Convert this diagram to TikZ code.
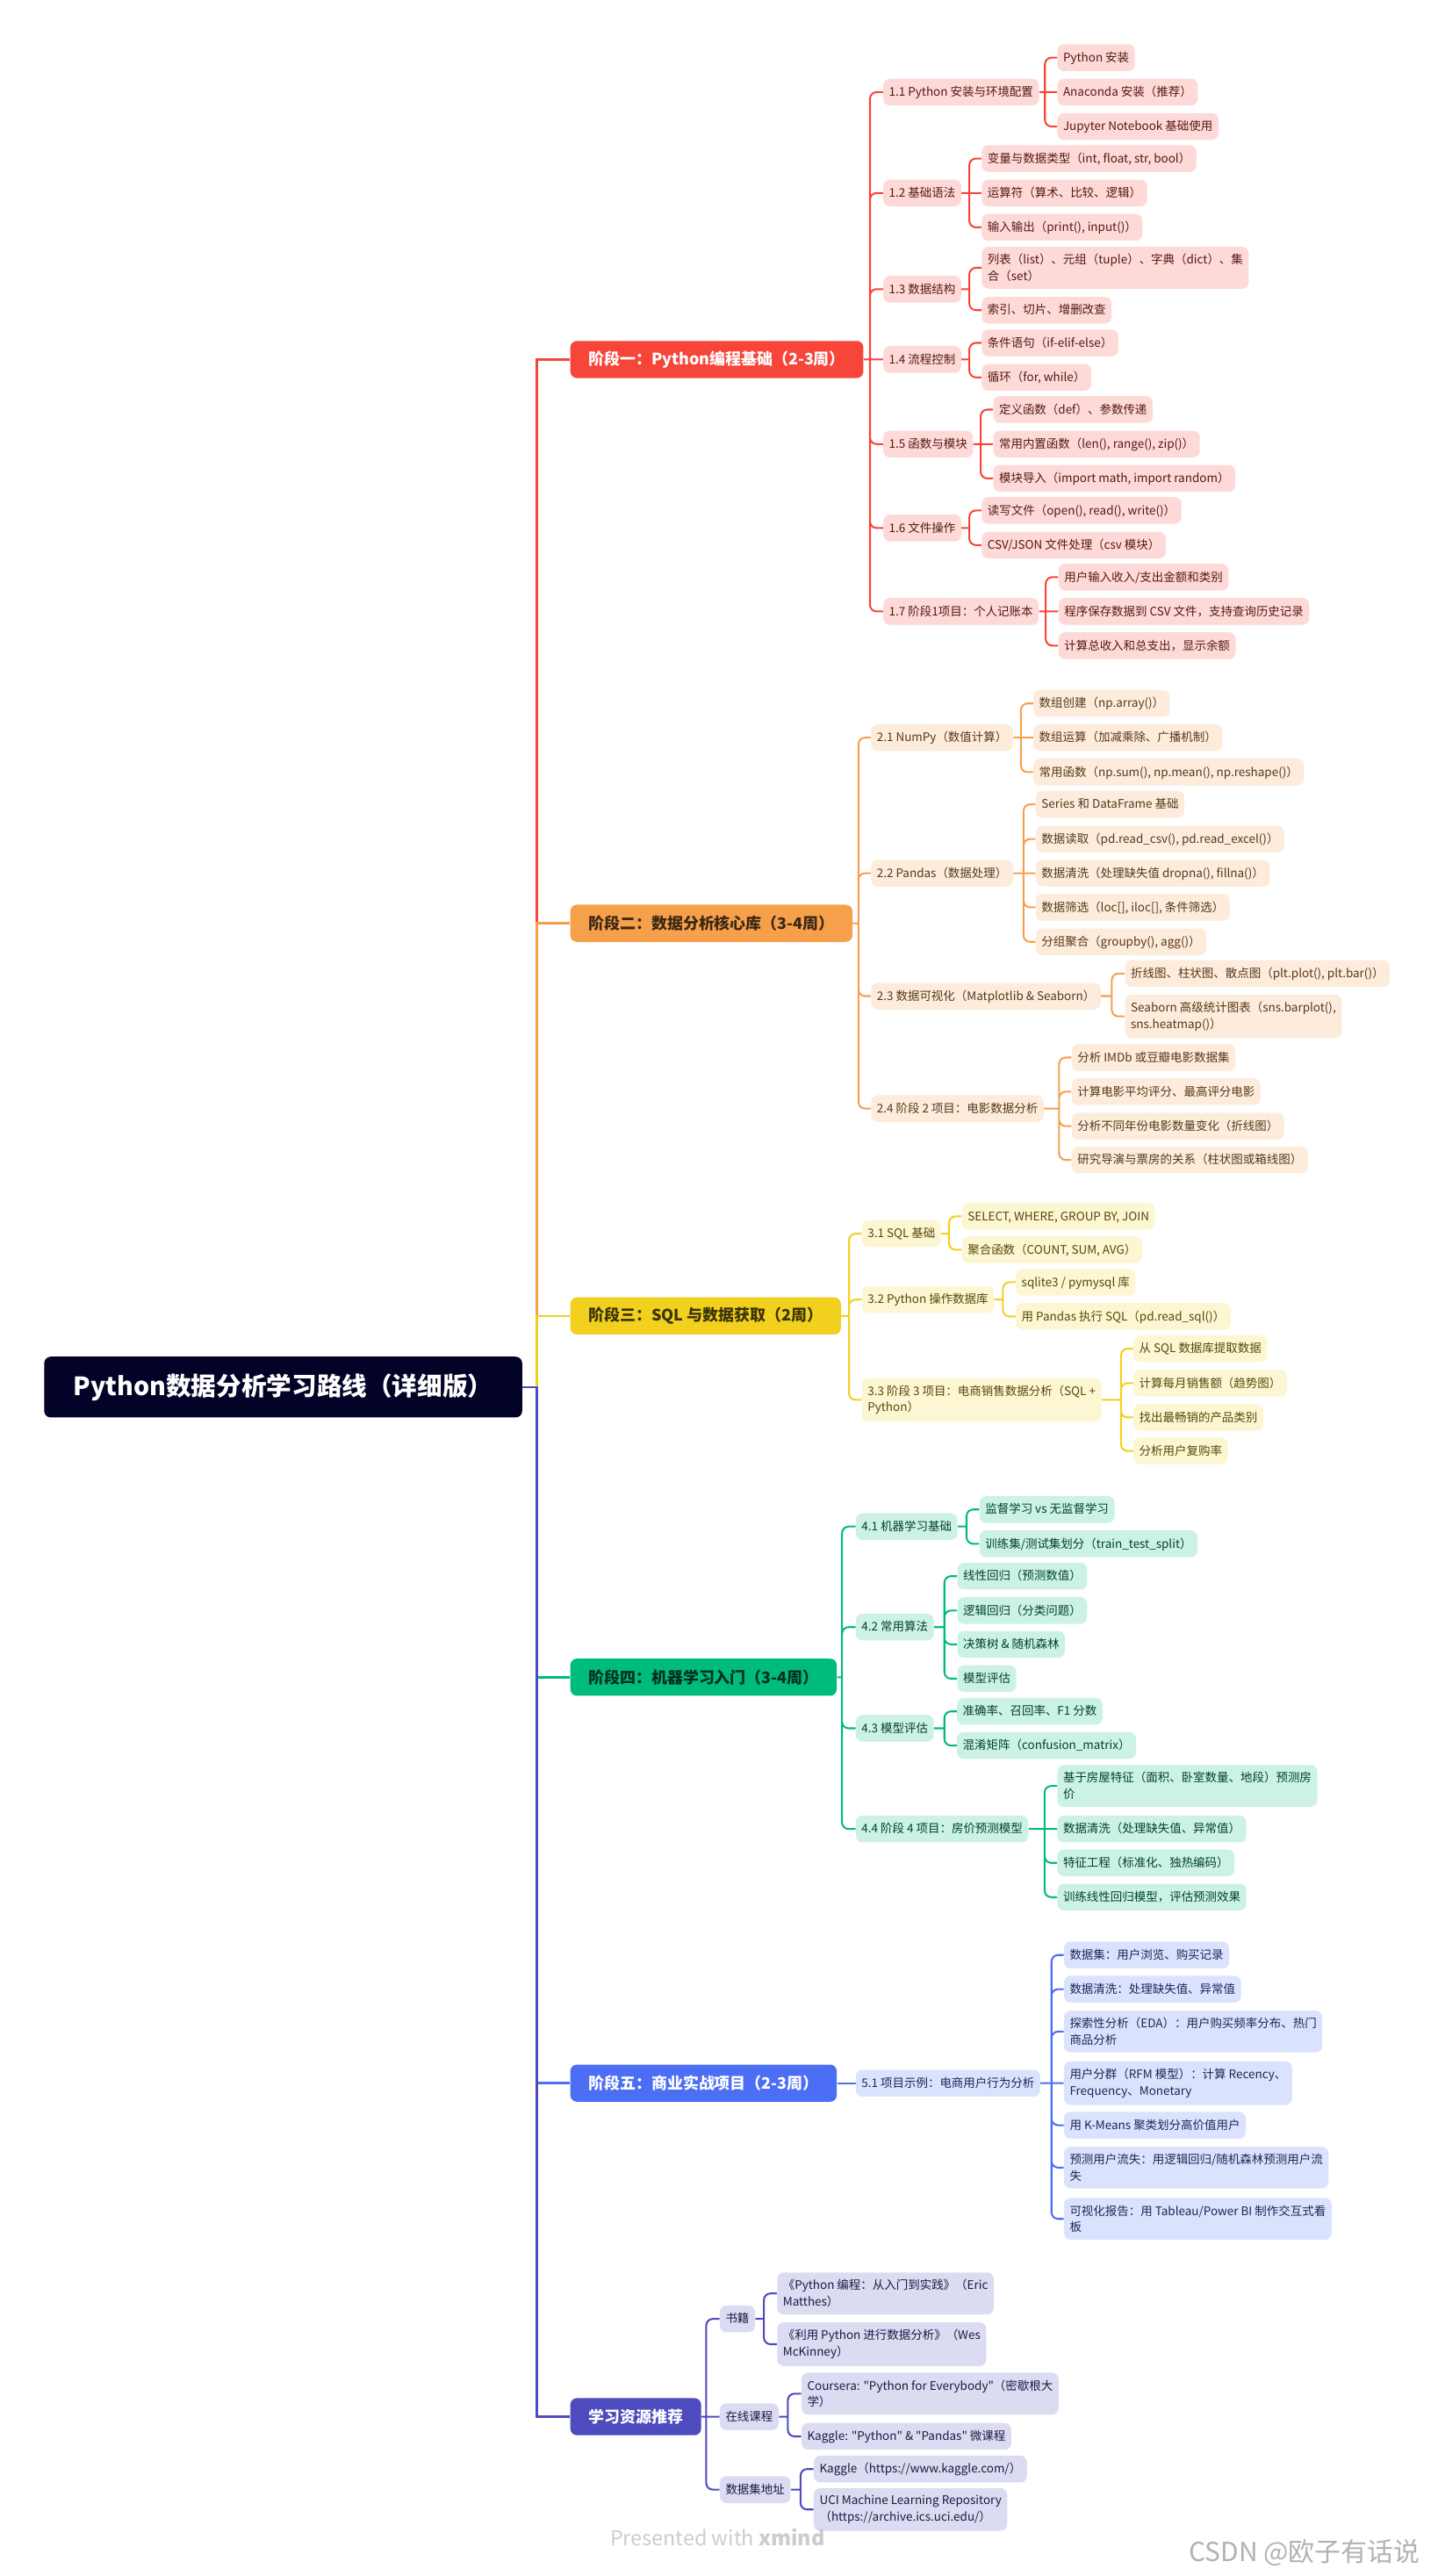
\documentclass[tikz,border=0pt]{standalone}
\usepackage{fontspec}
\setmainfont{Noto Sans CJK SC}[Ligatures=TeXOff]
\usepackage{tikz}
\usetikzlibrary{positioning}
\definecolor{rootC}{RGB}{2, 3, 38}
\definecolor{stA}{RGB}{247, 69, 58}
\definecolor{stB}{RGB}{246, 160, 76}
\definecolor{stC}{RGB}{242, 208, 30}
\definecolor{stD}{RGB}{0, 188, 123}
\definecolor{stE}{RGB}{76, 110, 245}
\definecolor{stF}{RGB}{77, 75, 190}
\pgfdeclarelayer{links}
\pgfsetlayers{links,main}

\begin{document}
\begin{tikzpicture}[
  x=1pt, y=-1pt,
  rootbox/.style={fill=rootC, text=white, rounded corners=4pt,
                  minimum width=291pt, minimum height=37pt,
                  font=\fontsize{15.3}{18}\selectfont\bfseries},
  stage/.style={fill=#1, text=#1!25!black, rounded corners=4pt, anchor=west,
                inner xsep=11pt, minimum height=22.6pt,
                font=\fontsize{9.6}{12}\selectfont\bfseries},
  itembase/.style={fill=#1!20, text=#1!35!black, rounded corners=4pt,
                   anchor=west, inner xsep=3.5pt, inner ysep=4.35pt,
                   font=\fontsize{7.2}{10}\selectfont},
  item/.style={itembase=#1, minimum height=16.3pt,
               text height=6.3pt, text depth=1.3pt},
  item2/.style={itembase=#1, align=left},
  main/.style={draw=#1, line width=1.4pt},
  branch/.style={draw=#1, line width=1.1pt, rounded corners=4pt}
]
  \useasboundingbox (0,0) rectangle (875,1568);

  \node[rootbox] (root) at (172.4,844.3) {Python数据分析学习路线（详细版）};

  % stage 1
  \node[stage=stA, text=white] (st1) at (347,218.8) {阶段一：Python编程基础（2-3周）};
  \node[item=stA] (t11) at (537.5,56.1) {1.1 Python 安装与环境配置};
  \node[item=stA] (t12) at (537.5,117.5) {1.2 基础语法};
  \node[item=stA] (t13) at (537.5,176) {1.3 数据结构};
  \node[item=stA] (t14) at (537.5,218.8) {1.4 流程控制};
  \node[item=stA] (t15) at (537.5,270.3) {1.5 函数与模块};
  \node[item=stA] (t16) at (537.5,321.4) {1.6 文件操作};
  \node[item=stA] (t17) at (537.5,372.2) {1.7 阶段1项目：个人记账本};
  \node[item=stA] (l11a) at (643.5,35.1) {Python 安装};
  \node[item=stA] (l11b) at (643.5,56.1) {Anaconda 安装（推荐）};
  \node[item=stA] (l11c) at (643.5,77) {Jupyter Notebook 基础使用};
  \node[item=stA] (l12a) at (597.5,96.5) {变量与数据类型（int, float, str, bool）};
  \node[item=stA] (l12b) at (597.5,117.5) {运算符（算术、比较、逻辑）};
  \node[item=stA] (l12c) at (597.5,138.4) {输入输出（print(), input()）};
  \node[item2=stA] (l13a) at (597.5,163) {列表（list）、元组（tuple）、字典（dict）、集\\合（set）};
  \node[item=stA] (l13b) at (597.5,188.8) {索引、切片、增删改查};
  \node[item=stA] (l14a) at (597.5,208.7) {条件语句（if-elif-else）};
  \node[item=stA] (l14b) at (597.5,229.7) {循环（for, while）};
  \node[item=stA] (l15a) at (604.5,249.3) {定义函数（def）、参数传递};
  \node[item=stA] (l15b) at (604.5,270.3) {常用内置函数（len(), range(), zip()）};
  \node[item=stA] (l15c) at (604.5,291.2) {模块导入（import math, import random）};
  \node[item=stA] (l16a) at (597.5,310.7) {读写文件（open(), read(), write()）};
  \node[item=stA] (l16b) at (597.5,331.8) {CSV/JSON 文件处理（csv 模块）};
  \node[item=stA] (l17a) at (644.2,351.3) {用户输入收入/支出金额和类别};
  \node[item=stA] (l17b) at (644.2,372.2) {程序保存数据到 CSV 文件，支持查询历史记录};
  \node[item=stA] (l17c) at (644.2,393) {计算总收入和总支出，显示余额};

  % stage 2
  \node[stage=stB] (st2) at (347,562) {阶段二：数据分析核心库（3-4周）};
  \node[item=stB] (t21) at (530.1,449) {2.1 NumPy（数值计算）};
  \node[item=stB] (t22) at (530.1,531.5) {2.2 Pandas（数据处理）};
  \node[item=stB] (t23) at (530.1,606.3) {2.3 数据可视化（Matplotlib \& Seaborn）};
  \node[item=stB] (t24) at (530.1,674.8) {2.4 阶段 2 项目：电影数据分析};
  \node[item=stB] (l21a) at (628.9,428.2) {数组创建（np.array()）};
  \node[item=stB] (l21b) at (628.9,449) {数组运算（加减乘除、广播机制）};
  \node[item=stB] (l21c) at (628.9,470) {常用函数（np.sum(), np.mean(), np.reshape()）};
  \node[item=stB] (l22a) at (630.3,489.6) {Series 和 DataFrame 基础};
  \node[item=stB] (l22b) at (630.3,510.7) {数据读取（pd.read\_csv(), pd.read\_excel()）};
  \node[item=stB] (l22c) at (630.3,531.5) {数据清洗（处理缺失值 dropna(), fillna()）};
  \node[item=stB] (l22d) at (630.3,552.3) {数据筛选（loc[], iloc[], 条件筛选）};
  \node[item=stB] (l22e) at (630.3,573.3) {分组聚合（groupby(), agg()）};
  \node[item=stB] (l23a) at (684.7,592.6) {折线图、柱状图、散点图（plt.plot(), plt.bar()）};
  \node[item2=stB] (l23b) at (684.7,618.7) {Seaborn 高级统计图表（sns.barplot(),\\sns.heatmap()）};
  \node[item=stB] (l24a) at (652.2,643.7) {分析 IMDb 或豆瓣电影数据集};
  \node[item=stB] (l24b) at (652.2,664.5) {计算电影平均评分、最高评分电影};
  \node[item=stB] (l24c) at (652.2,685.5) {分析不同年份电影数量变化（折线图）};
  \node[item=stB] (l24d) at (652.2,706) {研究导演与票房的关系（柱状图或箱线图）};

  % stage 3
  \node[stage=stC] (st3) at (347,801) {阶段三：SQL 与数据获取（2周）};
  \node[item=stC] (t31) at (524.5,750.9) {3.1 SQL 基础};
  \node[item=stC] (t32) at (524.5,791) {3.2 Python 操作数据库};
  \node[item2=stC] (t33) at (524.5,852.1) {3.3 阶段 3 项目：电商销售数据分析（SQL +\\Python）};
  \node[item=stC] (l31a) at (585.4,740.4) {SELECT, WHERE, GROUP BY, JOIN};
  \node[item=stC] (l31b) at (585.4,760.7) {聚合函数（COUNT, SUM, AVG）};
  \node[item=stC] (l32a) at (618.2,780.5) {sqlite3 / pymysql 库};
  \node[item=stC] (l32b) at (618.2,801.3) {用 Pandas 执行 SQL（pd.read\_sql()）};
  \node[item=stC] (l33a) at (689.8,820.9) {从 SQL 数据库提取数据};
  \node[item=stC] (l33b) at (689.8,841.9) {计算每月销售额（趋势图）};
  \node[item=stC] (l33c) at (689.8,862.8) {找出最畅销的产品类别};
  \node[item=stC] (l33d) at (689.8,883.2) {分析用户复购率};

  % stage 4
  \node[stage=stD] (st4) at (347,1020.9) {阶段四：机器学习入门（3-4周）};
  \node[item=stD] (t41) at (520.8,929.2) {4.1 机器学习基础};
  \node[item=stD] (t42) at (520.8,990.4) {4.2 常用算法};
  \node[item=stD] (t43) at (520.8,1052) {4.3 模型评估};
  \node[item=stD] (t44) at (520.8,1113.3) {4.4 阶段 4 项目：房价预测模型};
  \node[item=stD] (l41a) at (596.1,918.8) {监督学习 vs 无监督学习};
  \node[item=stD] (l41b) at (596.1,939.7) {训练集/测试集划分（train\_test\_split）};
  \node[item=stD] (l42a) at (582.6,959.4) {线性回归（预测数值）};
  \node[item=stD] (l42b) at (582.6,980.3) {逻辑回归（分类问题）};
  \node[item=stD] (l42c) at (582.6,1000.9) {决策树 \& 随机森林};
  \node[item=stD] (l42d) at (582.6,1021.8) {模型评估};
  \node[item=stD] (l43a) at (582.4,1041.7) {准确率、召回率、F1 分数};
  \node[item=stD] (l43b) at (582.4,1062.5) {混淆矩阵（confusion\_matrix）};
  \node[item2=stD] (l44a) at (643.5,1087.1) {基于房屋特征（面积、卧室数量、地段）预测房\\价};
  \node[item=stD] (l44b) at (643.5,1113.3) {数据清洗（处理缺失值、异常值）};
  \node[item=stD] (l44c) at (643.5,1133.9) {特征工程（标准化、独热编码）};
  \node[item=stD] (l44d) at (643.5,1154.8) {训练线性回归模型，评估预测效果};

  % stage 5
  \node[stage=stE, text=white] (st5) at (347,1268) {阶段五：商业实战项目（2-3周）};
  \node[item=stE] (t51) at (520.8,1268) {5.1 项目示例：电商用户行为分析};
  \node[item=stE] (l51a) at (647.5,1190) {数据集：用户浏览、购买记录};
  \node[item=stE] (l51b) at (647.5,1210.8) {数据清洗：处理缺失值、异常值};
  \node[item2=stE] (l51c) at (647.5,1236.6) {探索性分析（EDA）：用户购买频率分布、热门\\商品分析};
  \node[item2=stE] (l51d) at (647.5,1268) {用户分群（RFM 模型）：计算 Recency、\\Frequency、Monetary};
  \node[item=stE] (l51e) at (647.5,1293.6) {用 K-Means 聚类划分高价值用户};
  \node[item2=stE] (l51f) at (647.5,1319.4) {预测用户流失：用逻辑回归/随机森林预测用户流\\失};
  \node[item2=stE] (l51g) at (647.5,1350.6) {可视化报告：用 Tableau/Power BI 制作交互式看\\板};

  % resources
  \node[stage=stF, text=white] (st6) at (347,1471) {学习资源推荐};
  \node[item=stF] (t61) at (438,1411.5) {书籍};
  \node[item=stF] (t62) at (438,1471) {在线课程};
  \node[item=stF] (t63) at (438,1515.4) {数据集地址};
  \node[item2=stF] (l61a) at (472.9,1396) {《Python 编程：从入门到实践》（Eric\\Matthes）};
  \node[item2=stF] (l61b) at (472.9,1426.9) {《利用 Python 进行数据分析》（Wes\\McKinney）};
  \node[item2=stF] (l62a) at (487.7,1457) {Coursera: "Python for Everybody"（密歇根大\\学）};
  \node[item=stF] (l62b) at (487.7,1483) {Kaggle: "Python" \& "Pandas" 微课程};
  \node[item=stF] (l63a) at (495.2,1502.9) {Kaggle（https://www.kaggle.com/）};
  \node[item2=stF] (l63b) at (495.2,1527.5) {UCI Machine Learning Repository\\（https://archive.ics.uci.edu/）};

  \node[anchor=west, text=black!20, font=\fontsize{12.5}{15}\selectfont] (credit)
    at (367.9,1544.2) {Presented with \textbf{xmind}};
  \node[anchor=east, text=black!30, font=\fontsize{16}{19}\selectfont] (mark)
    at (868,1554) {CSDN @欧子有话说};

  \begin{pgfonlayer}{links}
    % trunk
    \coordinate (rj) at (326.7,844.3);
    \draw[main=stA] (root.east) -- (rj) |- (st1.west);
    \draw[main=stB] (root.east) -- (rj) |- (st2.west);
    \draw[main=stC] (root.east) -- (rj) |- (st3.west);
    \draw[main=stD] (root.east) -- (rj) |- (st4.west);
    \draw[main=stE] (root.east) -- (rj) |- (st5.west);
    \draw[main=stF] (root.east) -- (rj) |- (st6.west);

    % stage 1
    \coordinate (j1) at (529.6,218.8);
    \coordinate (j11) at (636.1,56.1);
    \coordinate (j12) at (590.1,117.5);
    \coordinate (j13) at (590.1,176);
    \coordinate (j14) at (590.1,218.8);
    \coordinate (j15) at (597,270.3);
    \coordinate (j16) at (590.1,321.4);
    \coordinate (j17) at (636.6,372.2);
    \draw[branch=stA] (st1.east) -- (j1) (j1) |- (t11.west) (j1) |- (t12.west)
      (j1) |- (t13.west) (j1) -- (t14.west) (j1) |- (t15.west)
      (j1) |- (t16.west) (j1) |- (t17.west);
    \draw[branch=stA] (t11.east) -- (j11) (j11) |- (l11a.west)
      (j11) -- (l11b.west) (j11) |- (l11c.west);
    \draw[branch=stA] (t12.east) -- (j12) (j12) |- (l12a.west)
      (j12) -- (l12b.west) (j12) |- (l12c.west);
    \draw[branch=stA] (t13.east) -- (j13) (j13) |- (l13a.west) (j13) |- (l13b.west);
    \draw[branch=stA] (t14.east) -- (j14) (j14) |- (l14a.west) (j14) |- (l14b.west);
    \draw[branch=stA] (t15.east) -- (j15) (j15) |- (l15a.west)
      (j15) -- (l15b.west) (j15) |- (l15c.west);
    \draw[branch=stA] (t16.east) -- (j16) (j16) |- (l16a.west) (j16) |- (l16b.west);
    \draw[branch=stA] (t17.east) -- (j17) (j17) |- (l17a.west)
      (j17) -- (l17b.west) (j17) |- (l17c.west);

    % stage 2
    \coordinate (j2) at (522.6,562);
    \coordinate (j21) at (621.5,449);
    \coordinate (j22) at (623.1,531.5);
    \coordinate (j23) at (676.8,606.3);
    \coordinate (j24) at (644.7,674.8);
    \draw[branch=stB] (st2.east) -- (j2) (j2) |- (t21.west) (j2) |- (t22.west)
      (j2) |- (t23.west) (j2) |- (t24.west);
    \draw[branch=stB] (t21.east) -- (j21) (j21) |- (l21a.west)
      (j21) -- (l21b.west) (j21) |- (l21c.west);
    \draw[branch=stB] (t22.east) -- (j22) (j22) |- (l22a.west) (j22) |- (l22b.west)
      (j22) -- (l22c.west) (j22) |- (l22d.west) (j22) |- (l22e.west);
    \draw[branch=stB] (t23.east) -- (j23) (j23) |- (l23a.west) (j23) |- (l23b.west);
    \draw[branch=stB] (t24.east) -- (j24) (j24) |- (l24a.west) (j24) |- (l24b.west)
      (j24) |- (l24c.west) (j24) |- (l24d.west);

    % stage 3
    \coordinate (j3) at (516.8,801);
    \coordinate (j31) at (577.7,750.9);
    \coordinate (j32) at (610.5,791);
    \coordinate (j33) at (682.4,852.1);
    \draw[branch=stC] (st3.east) -- (j3) (j3) |- (t31.west) (j3) |- (t32.west)
      (j3) |- (t33.west);
    \draw[branch=stC] (t31.east) -- (j31) (j31) |- (l31a.west) (j31) |- (l31b.west);
    \draw[branch=stC] (t32.east) -- (j32) (j32) |- (l32a.west) (j32) |- (l32b.west);
    \draw[branch=stC] (t33.east) -- (j33) (j33) |- (l33a.west) (j33) |- (l33b.west)
      (j33) |- (l33c.west) (j33) |- (l33d.west);

    % stage 4
    \coordinate (j4) at (512.6,1020.9);
    \coordinate (j41) at (588.4,929.2);
    \coordinate (j42) at (574.9,990.4);
    \coordinate (j43) at (574.9,1052);
    \coordinate (j44) at (635.9,1113.3);
    \draw[branch=stD] (st4.east) -- (j4) (j4) |- (t41.west) (j4) |- (t42.west)
      (j4) |- (t43.west) (j4) |- (t44.west);
    \draw[branch=stD] (t41.east) -- (j41) (j41) |- (l41a.west) (j41) |- (l41b.west);
    \draw[branch=stD] (t42.east) -- (j42) (j42) |- (l42a.west) (j42) |- (l42b.west)
      (j42) |- (l42c.west) (j42) |- (l42d.west);
    \draw[branch=stD] (t43.east) -- (j43) (j43) |- (l43a.west) (j43) |- (l43b.west);
    \draw[branch=stD] (t44.east) -- (j44) (j44) |- (l44a.west) (j44) -- (l44b.west)
      (j44) |- (l44c.west) (j44) |- (l44d.west);

    % stage 5
    \coordinate (j51) at (640.1,1268);
    \draw[branch=stE] (st5.east) -- (t51.west);
    \draw[branch=stE] (t51.east) -- (j51) (j51) |- (l51a.west) (j51) |- (l51b.west)
      (j51) |- (l51c.west) (j51) -- (l51d.west) (j51) |- (l51e.west)
      (j51) |- (l51f.west) (j51) |- (l51g.west);

    % resources
    \coordinate (j6) at (429.9,1471);
    \coordinate (j61) at (465,1411.5);
    \coordinate (j62) at (479.6,1471);
    \coordinate (j63) at (487.3,1515.4);
    \draw[branch=stF] (st6.east) -- (j6) (j6) |- (t61.west) (j6) -- (t62.west)
      (j6) |- (t63.west);
    \draw[branch=stF] (t61.east) -- (j61) (j61) |- (l61a.west) (j61) |- (l61b.west);
    \draw[branch=stF] (t62.east) -- (j62) (j62) |- (l62a.west) (j62) |- (l62b.west);
    \draw[branch=stF] (t63.east) -- (j63) (j63) |- (l63a.west) (j63) |- (l63b.west);
  \end{pgfonlayer}
\end{tikzpicture}
\end{document}
